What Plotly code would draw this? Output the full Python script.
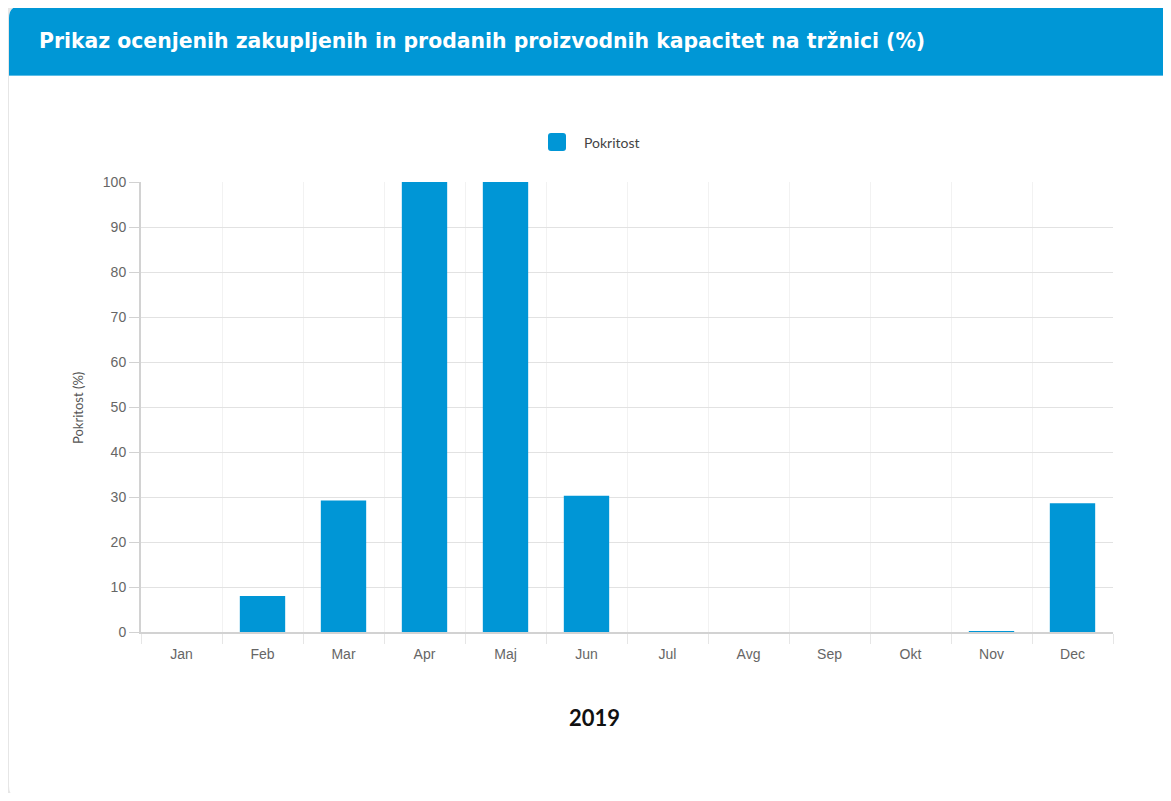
import plotly.graph_objects as go

months = ["Jan", "Feb", "Mar", "Apr", "Maj", "Jun", "Jul", "Avg", "Sep", "Okt", "Nov", "Dec"]
pokritost = [0, 8.0, 29.2, 100, 100, 30.3, 0, 0, 0, 0, 0.1, 28.6]
y_ticks = [0, 10, 20, 30, 40, 50, 60, 70, 80, 90, 100]

title_text = "Prikaz ocenjenih zakupljenih in prodanih proizvodnih kapacitet na tržnici (%)"
series_name = "Pokritost"
y_title = "Pokritost (%)"
x_title = "2019"

OFF = 8  # default page body margin
W, H = 1171 - 2 * OFF, 801 - 2 * OFF
# plot area in page pixels: x 141..1113, y 182..632
ml = 141 - OFF
mt = 182 - OFF
mr = W - (1113 - OFF)
mb = H - (632 - OFF)
pw, ph = W - ml - mr, H - mt - mb

BLUE = "#0096D6"


def X(px):
    return (px - OFF - ml) / pw


def Y(py):
    return (H - mb - (py - OFF)) / ph


def rrect(x0, y0, x1, y1, r, top=True, bottom=True):
    rt = r if top else 0
    rb = r if bottom else 0
    pts = [
        f"M{X(x0 + rt)},{Y(y0)}",
        f"L{X(x1 - rt)},{Y(y0)}",
        f"Q{X(x1)},{Y(y0)} {X(x1)},{Y(y0 + rt)}",
        f"L{X(x1)},{Y(y1 - rb)}",
        f"Q{X(x1)},{Y(y1)} {X(x1 - rb)},{Y(y1)}",
        f"L{X(x0 + rb)},{Y(y1)}",
        f"Q{X(x0)},{Y(y1)} {X(x0)},{Y(y1 - rb)}",
        f"L{X(x0)},{Y(y0 + rt)}",
        f"Q{X(x0)},{Y(y0)} {X(x0 + rt)},{Y(y0)}",
        "Z",
    ]
    return " ".join(pts)


fig = go.Figure()
fig.add_trace(go.Bar(
    x=months,
    y=pokritost,
    name=series_name,
    marker=dict(color=BLUE, line=dict(width=0)),
    showlegend=False,
))

shapes = [
    # card
    dict(type="path", xref="paper", yref="paper", path=rrect(9, 6, 1190, 798, 12),
         fillcolor="white", line=dict(width=0), layer="below"),
    # header band
    dict(type="path", xref="paper", yref="paper", path=rrect(9, 6, 1190, 75, 12, bottom=False),
         fillcolor="#0097D6", line=dict(width=0), layer="below"),
    dict(type="line", xref="paper", yref="paper", x0=X(9), x1=X(1190), y0=Y(75.5), y1=Y(75.5),
         line=dict(color="#5BBDE6", width=1), layer="below"),
    # legend swatch
    dict(type="path", xref="paper", yref="paper", path=rrect(548, 133, 566, 151, 3),
         fillcolor=BLUE, line=dict(width=0), layer="above"),
]

annotations = [
    dict(text=f"<b>{title_text}</b>", xref="paper", yref="paper", x=X(37), y=Y(41),
         xanchor="left", yanchor="middle", showarrow=False,
         font=dict(family="DejaVu Sans", size=20.4, color="white")),
    dict(text=series_name, xref="paper", yref="paper", x=X(582), y=Y(142),
         xanchor="left", yanchor="middle", showarrow=False,
         font=dict(family="Lato", size=14, color="#444")),
    dict(text=y_title, xref="paper", yref="paper", x=X(78), y=Y(408), textangle=-90,
         xanchor="center", yanchor="middle", showarrow=False,
         font=dict(family="Lato", size=13, color="#555")),
    dict(text=f"<b>{x_title}</b>", xref="paper", yref="paper", x=X(594), y=Y(717),
         xanchor="center", yanchor="middle", showarrow=False,
         font=dict(family="Lato", size=22, color="#111")),
]

fig.update_layout(
    width=W, height=H,
    margin=dict(l=ml, r=mr, t=mt, b=mb, pad=0),
    paper_bgcolor="#e6e6e6",
    plot_bgcolor="white",
    bargap=0.44,
    shapes=shapes,
    annotations=annotations,
    font=dict(family="Liberation Sans, Arial, sans-serif", size=14, color="#666"),
    xaxis=dict(
        type="category",
        tickson="boundaries",
        ticks="outside", ticklen=10, tickcolor="#e6e6e6", tickwidth=1,
        ticklabelstandoff=8,
        showgrid=True, gridcolor="#f2f2f2", gridwidth=1,
        showline=True, linecolor="#d2d2d2", linewidth=2,
        tickfont=dict(family="Liberation Sans, Arial, sans-serif", size=14, color="#666"),
        fixedrange=True,
    ),
    yaxis=dict(
        range=[0, 100],
        tickvals=y_ticks,
        ticks="outside", ticklen=10, tickcolor="#d2d2d2", tickwidth=1,
        showgrid=True, gridcolor="#e2e2e2", gridwidth=1,
        zeroline=False,
        showline=True, linecolor="#d2d2d2", linewidth=2,
        tickfont=dict(family="Liberation Sans, Arial, sans-serif", size=14, color="#666"),
        fixedrange=True,
    ),
)

fig.write_html("out.html", config=dict(displayModeBar=False))
